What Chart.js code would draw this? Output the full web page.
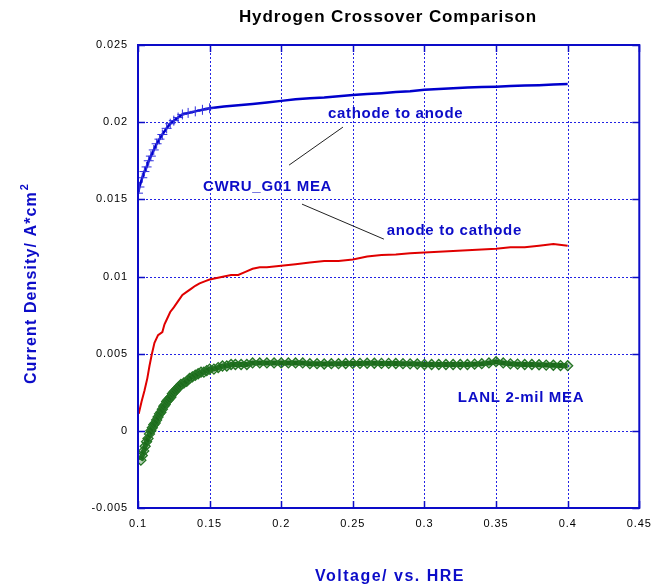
<!DOCTYPE html>
<html><head><meta charset="utf-8">
<script src="https://cdn.jsdelivr.net/npm/chart.js@4.4.0/dist/chart.umd.min.js"></script>
<style>html,body{margin:0;padding:0;background:#fff;}canvas{display:block;}</style>
</head><body>
<canvas id="c" width="659" height="588"></canvas>
<script>
// ---- data (Voltage vs. HRE, Current density A/cm^2) ----
const cwruX = [0.100,0.101,0.103,0.1045,0.106,0.1075,0.109,0.111,0.113,0.115,0.117,0.120,0.1225,0.125,0.128,0.131,0.135,0.140,0.145,0.150,
  0.16,0.17,0.18,0.19,0.20,0.21,0.22,0.23,0.24,0.25,0.26,0.27,0.28,0.29,0.30,0.31,0.32,0.33,0.34,0.35,0.36,0.37,0.38,0.39,0.40];
const cwruY = [0.0154,0.0158,0.0164,0.0168,0.0171,0.0175,0.0178,0.0182,0.0186,0.0189,0.0192,0.0196,0.0199,0.0201,0.0203,0.0205,0.0206,0.0207,0.0208,0.0209,
  0.02102,0.0211,0.02118,0.02128,0.02138,0.02148,0.02155,0.0216,0.02168,0.02176,0.02182,0.02188,0.02195,0.022,0.0221,0.02215,0.0222,0.02225,0.02228,0.0223,0.02234,0.02237,0.0224,0.02244,0.02247];
const cwruMarkerCount = 20;

const anodeX = [0.1005,0.1025,0.1045,0.1065,0.108,0.1095,0.1115,0.114,0.117,0.1185,0.120,0.1225,0.125,0.128,0.131,0.134,0.137,0.140,0.143,0.147,0.150,
  0.155,0.160,0.165,0.170,0.175,0.180,0.185,0.190,0.200,0.210,0.220,0.230,0.240,0.250,0.260,0.270,0.280,0.290,0.300,0.310,0.320,0.330,0.340,0.350,0.360,0.370,0.380,0.390,0.400];
const anodeY = [0.0011,0.0019,0.0026,0.0034,0.0042,0.0049,0.0057,0.0062,0.0064,0.0069,0.0072,0.0077,0.0080,0.0084,0.0088,0.0090,0.0092,0.0094,0.00955,0.0097,0.0098,
  0.0099,0.0100,0.0101,0.0101,0.0103,0.0105,0.0106,0.0106,0.0107,0.0108,0.0109,0.0110,0.0110,0.0111,0.0113,0.0114,0.01143,0.0115,0.01155,0.0116,0.01165,0.0117,0.01175,0.0118,0.0119,0.0119,0.0120,0.0121,0.0120];

const lanlX = [0.102,0.103,0.104,0.105,0.106,0.107,0.108,0.109,0.110,0.111,0.112,0.113,0.114,0.115,0.116,0.117,0.118,0.119,0.120,0.121,0.122,0.123,0.124,0.125,0.126,0.127,0.128,0.129,0.130,
  0.132,0.134,0.136,0.138,0.140,0.142,0.144,0.146,0.148,0.150,0.153,0.156,0.159,0.162,0.165,0.168,0.172,0.176,0.180,0.185,0.190,0.195,0.200,
  0.205,0.210,0.215,0.220,0.225,0.230,0.235,0.240,0.245,0.250,0.255,0.260,0.265,0.270,0.275,0.280,0.285,0.290,0.295,0.300,
  0.305,0.310,0.315,0.320,0.325,0.330,0.335,0.340,0.345,0.350,0.355,0.360,0.365,0.370,0.375,0.380,0.385,0.390,0.395,0.400];
const lanlY = [-0.0019,-0.0016,-0.0013,-0.0010,-0.0007,-0.0005,-0.0002,0.0000,0.0002,0.0004,0.0005,0.0007,0.0009,0.0011,0.0012,0.0014,0.0016,0.0017,0.0019,0.0020,0.0021,0.0022,0.0024,0.0025,0.0026,0.0027,0.0028,0.0029,0.0030,
  0.0031,0.0032,0.0034,0.0035,0.0036,0.0037,0.0038,0.0038,0.0039,0.0040,0.0040,0.0041,0.0042,0.0042,0.0043,0.0043,0.0043,0.0043,0.0044,0.0044,0.0044,0.0044,0.0044,
  0.0044,0.0044,0.0044,0.00435,0.00435,0.00433,0.00435,0.00435,0.00436,0.00437,0.00437,0.00438,0.00438,0.00437,0.00437,0.00436,0.00435,0.00434,0.00433,0.0043,
  0.0043,0.0043,0.0043,0.0043,0.0043,0.0043,0.00432,0.00435,0.0044,0.00448,0.0044,0.00434,0.00432,0.0043,0.0043,0.00428,0.00426,0.00425,0.00423,0.00422];

const xTicks = [0.1,0.15,0.2,0.25,0.3,0.35,0.4,0.45];
const yTicks = [-0.005,0,0.005,0.01,0.015,0.02,0.025];

// annotations in data coordinates
const labels = [
  {text:'cathode to anode', x:0.2326, y:0.02052},
  {text:'CWRU_G01 MEA', x:0.1453, y:0.01581},
  {text:'anode to cathode', x:0.2736, y:0.01294},
  {text:'LANL 2-mil MEA', x:0.3233, y:0.00212}
];
const leaders = [
  [[0.2055,0.01722],[0.2431,0.01968]],
  [[0.2145,0.01469],[0.2717,0.01242]]
];

const BLUE = '#0c0cc8';
const toPts = (xs, ys) => xs.map((x,i)=>({x:x, y:ys[i]}));
const fmt = v => String(parseFloat(Number(v).toFixed(3)));

const overlay = {
  id:'overlay',
  beforeDraw(chart){
    const ctx = chart.ctx;
    ctx.save(); ctx.fillStyle='#fff'; ctx.fillRect(0,0,chart.width,chart.height); ctx.restore();
    ctx.letterSpacing = '0.9px';
  },
  beforeDatasetsDraw(chart){
    const ctx = chart.ctx, a = chart.chartArea;
    const xs = chart.scales.x, ys = chart.scales.y;
    ctx.save();
    ctx.strokeStyle = 'rgba(10,10,225,0.9)'; ctx.lineWidth = 1; ctx.setLineDash([2,2]);
    ctx.beginPath();
    xTicks.forEach(v=>{ const p = Math.round(xs.getPixelForValue(v))+0.5; ctx.moveTo(p,a.top); ctx.lineTo(p,a.bottom); });
    yTicks.forEach(v=>{ const p = Math.round(ys.getPixelForValue(v))+0.5; ctx.moveTo(a.left,p); ctx.lineTo(a.right,p); });
    ctx.stroke();
    ctx.restore();
  },
  afterDraw(chart){
    const ctx = chart.ctx, a = chart.chartArea;
    const xs = chart.scales.x, ys = chart.scales.y;
    ctx.save();
    // inner tick marks
    ctx.strokeStyle = BLUE; ctx.lineWidth = 1.5; ctx.setLineDash([]);
    ctx.beginPath();
    xTicks.forEach(v=>{ const p = Math.round(xs.getPixelForValue(v))+0.5;
      ctx.moveTo(p,a.bottom); ctx.lineTo(p,a.bottom-7); ctx.moveTo(p,a.top); ctx.lineTo(p,a.top+7); });
    yTicks.forEach(v=>{ const p = Math.round(ys.getPixelForValue(v))+0.5;
      ctx.moveTo(a.left,p); ctx.lineTo(a.left+7,p); ctx.moveTo(a.right,p); ctx.lineTo(a.right-7,p); });
    ctx.stroke();
    // frame
    ctx.lineWidth = 2; ctx.strokeStyle = BLUE;
    ctx.strokeRect(a.left, a.top, a.right-a.left, a.bottom-a.top);
    // leader lines
    ctx.lineWidth = 1; ctx.strokeStyle = '#222';
    leaders.forEach(l=>{
      ctx.beginPath();
      ctx.moveTo(xs.getPixelForValue(l[0][0]), ys.getPixelForValue(l[0][1]));
      ctx.lineTo(xs.getPixelForValue(l[1][0]), ys.getPixelForValue(l[1][1]));
      ctx.stroke();
    });
    // annotation labels
    ctx.fillStyle = BLUE; ctx.textBaseline='middle'; ctx.textAlign='left';
    ctx.font = 'bold 15px "Liberation Sans", Arial, sans-serif';
    ctx.letterSpacing = '0.7px';
    labels.forEach(l=> ctx.fillText(l.text, xs.getPixelForValue(l.x), ys.getPixelForValue(l.y)));
    // title
    ctx.fillStyle = '#000'; ctx.textAlign='center';
    ctx.font = 'bold 17px "Liberation Sans", Arial, sans-serif';
    ctx.letterSpacing = '0.9px';
    ctx.fillText('Hydrogen Crossover Comparison', 388, 17);
    // x title
    ctx.fillStyle = BLUE;
    ctx.font = 'bold 16px "Liberation Sans", Arial, sans-serif';
    ctx.letterSpacing = '1.5px';
    ctx.fillText('Voltage/ vs. HRE', 390, 577);
    // y title with superscript
    ctx.translate(32, 284); ctx.rotate(-Math.PI/2);
    ctx.letterSpacing = '1.1px';
    const main = 'Current Density/ A*cm';
    const w = ctx.measureText(main).width;
    ctx.font = 'bold 11px "Liberation Sans", Arial, sans-serif';
    const w2 = ctx.measureText('2').width;
    const start = -(w + w2)/2;
    ctx.font = 'bold 16px "Liberation Sans", Arial, sans-serif';
    ctx.textAlign = 'left';
    ctx.fillText(main, start, 0);
    ctx.font = 'bold 11px "Liberation Sans", Arial, sans-serif';
    ctx.fillText('2', start + w + 1, -7);
    ctx.restore();
  }
};

new Chart(document.getElementById('c'), {
  type:'scatter',
  data:{ datasets:[
    { label:'LANL 2-mil MEA', data:toPts(lanlX, lanlY), showLine:true,
      borderColor:'#1c6a1c', borderWidth:5, tension:0,
      pointStyle:'rectRot', pointRadius:5, pointBorderColor:'#247424', pointBackgroundColor:'rgba(28,106,28,0.3)', pointBorderWidth:1.3 },
    { label:'anode to cathode', data:toPts(anodeX, anodeY), showLine:true,
      borderColor:'#e00000', borderWidth:2, pointRadius:0, tension:0 },
    { label:'cathode to anode', data:toPts(cwruX, cwruY), showLine:true,
      borderColor:'#0000cc', borderWidth:2.5, pointStyle:'cross', pointBorderColor:'#3030dd', pointBorderWidth:1,
      pointRadius: c => c.dataIndex < cwruMarkerCount ? 5 : 0, tension:0 }
  ]},
  options:{
    responsive:false, animation:false, devicePixelRatio:1,
    layout:{ padding:{ left:0, top:45, right:19, bottom:0 } },
    plugins:{ legend:{display:false}, title:{display:false}, tooltip:{enabled:false} },
    scales:{
      x:{ type:'linear', min:0.1, max:0.45,
          afterFit: s => { s.height = 80; },
          afterBuildTicks: s => { s.ticks = xTicks.map(v=>({value:v})); },
          ticks:{ color:'#000', padding:9, font:{family:'"Liberation Sans", Arial, sans-serif', size:11}, callback: v => fmt(v), maxRotation:0, autoSkip:false },
          grid:{ display:false, drawTicks:false },
          border:{ display:false } },
      y:{ type:'linear', min:-0.005, max:0.025,
          afterFit: s => { s.width = 138; },
          afterBuildTicks: s => { s.ticks = yTicks.map(v=>({value:v})); },
          ticks:{ color:'#000', padding:10, font:{family:'"Liberation Sans", Arial, sans-serif', size:11}, callback: v => fmt(v), autoSkip:false },
          grid:{ display:false, drawTicks:false },
          border:{ display:false } }
    }
  },
  plugins:[overlay]
});
</script>
</body></html>
